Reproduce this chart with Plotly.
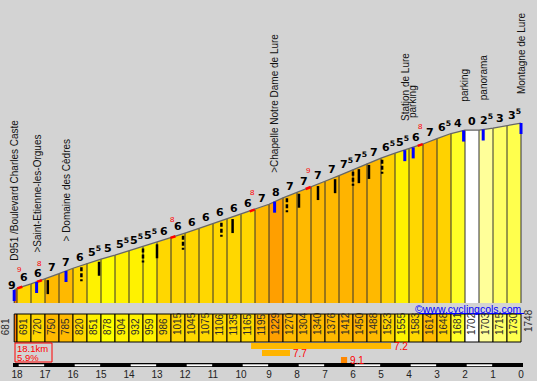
import numpy as np
import plotly.graph_objects as go

# ---------------- data ----------------
km_marks = [18.1, 18.0, 17.5, 17.0, 16.5, 16.0, 15.5, 15.0, 14.5, 14.0, 13.5, 13.0,
            12.5, 12.0, 11.5, 11.0, 10.5, 10.0, 9.5, 9.0, 8.5, 8.0, 7.5, 7.0, 6.5,
            6.0, 5.5, 5.0, 4.5, 4.0, 3.5, 3.0, 2.5, 2.0, 1.5, 1.0, 0.5, 0.0]
elevations = [681, 691, 720, 750, 785, 820, 851, 878, 904, 932, 959, 986, 1015, 1045,
              1075, 1106, 1135, 1165, 1195, 1229, 1270, 1304, 1340, 1376, 1412, 1450,
              1488, 1523, 1555, 1583, 1614, 1648, 1681, 1702, 1703, 1715, 1730, 1748]
grad_text = ["9", "6", "6", "7", "7", "6", "5.5", "5", "5.5", "5.5", "5.5",
             "6", "6", "6", "6", "6", "6", "6", "7", "8", "7", "7", "7", "7",
             "7.5", "7.5", "7", "6.5", "5.5", "6", "7", "6.5", "4", "0", "2.5", "3", "3.5"]
steep_km = [17.9, 17.2, 12.43, 9.6, 7.6, 3.6]
steep_val = ["9", "8", "8", "8", "9", "8"]
poi_km = [18.1, 17.3, 16.25, 8.8, 4.15, 3.85, 2.05, 1.35, 0.0]
poi_names = ["D951 /Boulevard Charles Caste", ">Saint-Etienne-les-Orgues",
             "> Domaine des Cèdres", ">Chapelle Notre Dame de Lure", "Station de Lure",
             "parking", "parking", "panorama", "Montagne de Lure"]
bend_km = [16.9, 15.7, 15.07, 13.5, 13.0, 12.07, 10.7, 10.3, 8.36, 7.93, 7.25,
           6.64, 6.0, 5.79, 5.43, 4.96]
bend_dashed = [False, True, False, True, False, True, True, False, True, False, False,
               False, True, False, False, True]
km_ticks = [18, 17, 16, 15, 14, 13, 12, 11, 10, 9, 8, 7, 6, 5, 4, 3, 2, 1, 0]
climb_length_km = 18.1
climb_avg_pct = 5.9
best_from_km = [9.64, 9.25, 6.43]
best_to_km = [4.64, 8.25, 6.21]
best_avg_pct = [7.2, 7.7, 9.1]
credit = "©www.cyclingcols.com"

# ---------------- geometry / style ----------------
W, H = 537, 381
X0_PX, PX_PER_KM = 521, 28.0          # km 0 at x=521 px
E_REF, Y_REF, M_PER_PX = 681, 290, 6.39
BG = "#D3D3D3"
FONT = "Liberation Sans"
BOLD = "DejaVu Sans"


def px_to_e(p):
    return E_REF + (Y_REF - p) * M_PER_PX


BASE_E = px_to_e(303)

CLASS_COLORS = {0: "#FFFFFF", 0.5: "#FFFFF0", 1: "#FFFFDD", 1.5: "#FFFFCC", 2: "#FFFFB0",
                2.5: "#FFFF99", 3: "#FFFF66", 3.5: "#FFFF4D", 4: "#FFFF26",
                4.5: "#FFFF10", 5: "#FFFF00", 5.5: "#FFF200", 6: "#FFD700",
                6.5: "#FFD200", 7: "#FFB900", 7.5: "#FFB400", 8: "#FF9F00",
                8.5: "#FF9400", 9: "#FF8800", 9.5: "#FF8000", 10: "#FF7A00"}


def grad_color(g):
    c = round(g * 2) / 2
    c = max(0, min(10, c))
    return CLASS_COLORS[c]


def sup_text(t):
    if "." in t:
        a, b = t.split(".")
        return f"{a}<sup>{b}</sup>"
    return t


km_inc = km_marks[::-1]
el_inc = elevations[::-1]


def elev_at(k):
    return float(np.interp(k, km_inc, el_inc))


fig = go.Figure()
shapes = []
annotations = []

# profile fills per segment + band cells
for i in range(len(km_marks) - 1):
    k0, k1 = km_marks[i], km_marks[i + 1]
    e0, e1 = elevations[i], elevations[i + 1]
    g = (e1 - e0) / ((k0 - k1) * 10.0)
    col = grad_color(g)
    fig.add_trace(go.Scatter(x=[k0, k0, k1, k1, k0], y=[BASE_E, e0, e1, BASE_E, BASE_E],
                             fill="toself", fillcolor=col, mode="lines",
                             line=dict(width=0), hoverinfo="skip", showlegend=False))
    shapes.append(dict(type="rect", xref="x", yref="y2", x0=k0, x1=k1, y0=314, y1=342,
                       fillcolor=col, line=dict(color="#000000", width=1), layer="above"))
    if i >= 1:
        annotations.append(dict(x=(k0 + k1) / 2, y=337.5, xref="x", yref="y2",
                                text=str(e0), textangle=-90, showarrow=False,
                                xanchor="center", yanchor="bottom", xshift=-1,
                                font=dict(family=FONT, size=10, color="#2A2A2A")))
    # gradient label
    mk = (k0 + k1) / 2
    annotations.append(dict(x=mk, y=elev_at(mk), xref="x", yref="y",
                            text=sup_text(grad_text[i]), showarrow=False,
                            xanchor="center", yanchor="bottom",
                            yshift=-5 if i == 0 else 0,
                            xshift=-4 if i == 0 else 0,
                            font=dict(family=BOLD, size=11, color="#000000", weight="bold")))

# end elevations outside band
annotations.append(dict(x=km_marks[0], y=337, xref="x", yref="y2", text=str(elevations[0]),
                        textangle=-90, showarrow=False, xanchor="right", yanchor="bottom",
                        xshift=-1, font=dict(family=FONT, size=10, color="#2A2A2A")))
annotations.append(dict(x=km_marks[-1], y=334, xref="x", yref="y2", text=str(elevations[-1]),
                        textangle=-90, showarrow=False, xanchor="left", yanchor="bottom",
                        xshift=0, font=dict(family=FONT, size=10, color="#2A2A2A")))

# vertical separators in profile
vx, vy = [], []
for k, e in zip(km_marks, elevations):
    vx += [k, k, None]
    vy += [BASE_E, e, None]
fig.add_trace(go.Scatter(x=vx, y=vy, mode="lines", line=dict(color="#333333", width=1),
                         hoverinfo="skip", showlegend=False))

# top outline
fig.add_trace(go.Scatter(x=km_marks, y=elevations, mode="lines",
                         line=dict(color="#666666", width=1.3),
                         hoverinfo="skip", showlegend=False))

# bends (black ticks)
for dashed in (False, True):
    bx, by = [], []
    for k, d in zip(bend_km, bend_dashed):
        if d != dashed:
            continue
        e = elev_at(k)
        bx += [k, k, None]
        by += [e - 2 * M_PER_PX, e - 16 * M_PER_PX, None]
    fig.add_trace(go.Scatter(x=bx, y=by, mode="lines",
                             line=dict(color="#000000", width=2.5,
                                       dash="4px,2px" if dashed else "solid"),
                             hoverinfo="skip", showlegend=False))

# steepest 100 m (red)
rx, ry = [], []
for k, v in zip(steep_km, steep_val):
    rx += [k + 0.09, k - 0.09, None]
    ry += [elev_at(k + 0.09), elev_at(k - 0.09), None]
    annotations.append(dict(x=k, y=elev_at(k), xref="x", yref="y", text=v, showarrow=False,
                            xanchor="center", yanchor="middle", yshift=18,
                            font=dict(family=FONT, size=8, color="#FF0000")))
fig.add_trace(go.Scatter(x=rx, y=ry, mode="lines", line=dict(color="#FF0000", width=2.5),
                         hoverinfo="skip", showlegend=False))

# points of interest (blue)
px_, py_ = [], []
for k, name in zip(poi_km, poi_names):
    e = elev_at(k)
    px_ += [k, k, None]
    py_ += [e, e - 11 * M_PER_PX, None]
    annotations.append(dict(x=k, y=e, xref="x", yref="y", text=name, textangle=-90,
                            showarrow=False, xanchor="center", yanchor="bottom", yshift=27,
                            font=dict(family=FONT, size=10, color="#111111")))
fig.add_trace(go.Scatter(x=px_, y=py_, mode="lines", line=dict(color="#0000FF", width=3),
                         hoverinfo="skip", showlegend=False))

# credit
annotations.append(dict(x=524 / W, y=309, xref="paper", yref="y2", text=credit,
                        showarrow=False, xanchor="right", yanchor="middle",
                        font=dict(family=FONT, size=10.5, color="#0000FF")))
shapes.append(dict(type="line", xref="paper", yref="y2", x0=419 / W, x1=524 / W,
                   y0=313.5, y1=313.5, line=dict(color="#0000FF", width=1)))

# summary box
shapes.append(dict(type="rect", xref="paper", yref="y2", x0=15 / W, x1=52 / W, y0=343, y1=362,
                   line=dict(color="#FF0000", width=1), fillcolor="rgba(0,0,0,0)"))
annotations.append(dict(x=16 / W, y=348.5, xref="paper", yref="y2",
                        text=f"{climb_length_km}km", showarrow=False, xanchor="left",
                        yanchor="middle", borderpad=0,
                        font=dict(family=FONT, size=9.5, color="#FF0000")))
annotations.append(dict(x=16 / W, y=357.5, xref="paper", yref="y2",
                        text=f"{climb_avg_pct}%", showarrow=False, xanchor="left",
                        yanchor="middle", borderpad=0,
                        font=dict(family=FONT, size=9.5, color="#FF0000")))

# best-section bars
rows = [(343, 349), (350, 356), (357, 363)]
for (a, b, v), (y0, y1) in zip(zip(best_from_km, best_to_km, best_avg_pct), rows):
    shapes.append(dict(type="rect", xref="x", yref="y2", x0=a, x1=b, y0=y0, y1=y1,
                       fillcolor=grad_color(v), line=dict(width=0)))
    annotations.append(dict(x=b, y=(y0 + y1) / 2, xref="x", yref="y2", text=str(v),
                            showarrow=False, xanchor="left", yanchor="middle", xshift=1,
                            font=dict(family=FONT, size=10, color="#FF0000")))

# km axis bar
shapes.append(dict(type="rect", xref="paper", yref="y2", x0=13 / W, x1=523 / W,
                   y0=363, y1=367, fillcolor="#000000", line=dict(width=0)))
for k in km_ticks[:-1]:
    if k % 2 == 0:
        shapes.append(dict(type="rect", xref="x", yref="y2", x0=k - 0.06, x1=k - 1 + 0.03,
                           y0=364.3, y1=366.2, fillcolor="#FFFFFF", line=dict(width=0)))

fig.add_trace(go.Scatter(x=km_ticks, y=[375] * len(km_ticks), yaxis="y2", mode="text",
                         text=[str(k) for k in km_ticks],
                         textfont=dict(family=FONT, size=10, color="#222222"),
                         hoverinfo="skip", showlegend=False))

fig.update_layout(
    width=W, height=H, margin=dict(l=0, r=0, t=0, b=0),
    paper_bgcolor=BG, plot_bgcolor=BG, showlegend=False,
    xaxis=dict(range=[X0_PX / PX_PER_KM, (X0_PX - W) / PX_PER_KM], visible=False,
               fixedrange=True),
    yaxis=dict(range=[px_to_e(H), px_to_e(0)], visible=False, fixedrange=True),
    yaxis2=dict(range=[H, 0], overlaying="y", visible=False, fixedrange=True),
    shapes=shapes, annotations=annotations,
)

fig.write_html("out.html", config={"displayModeBar": False},
               post_script="document.body.style.margin='0';"
                           "document.body.style.overflow='hidden';")
